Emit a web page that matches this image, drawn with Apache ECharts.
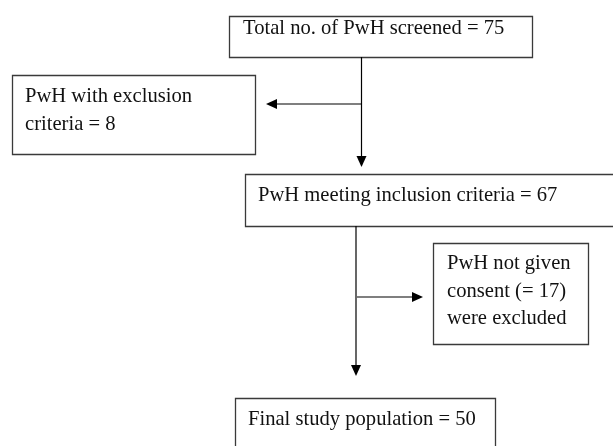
<!DOCTYPE html>
<html>
<head>
<meta charset="utf-8">
<script src="https://cdn.jsdelivr.net/npm/echarts@6/dist/echarts.min.js"></script>
<style>html,body{margin:0;padding:0;background:#fff;}#c{width:613px;height:446px;}</style>
</head>
<body>
<div id="c"></div>
<script>
// Flowchart content
const boxTexts = [
  'Total no. of PwH screened = 75',
  'PwH with exclusion\ncriteria = 8',
  'PwH meeting inclusion criteria = 67',
  'PwH not given\nconsent (= 17)\nwere excluded',
  'Final study population = 50'
];
// Box extents in chart units [x1, y1, x2, y2]
const boxX1 = [229, 12, 245, 433, 235];
const boxY1 = [16, 75, 174, 243, 398];
const boxX2 = [532, 255, 640, 588, 495];
const boxY2 = [57, 154, 226, 344, 470];
// Text anchor (left x, middle of first line)
const textX = [243, 25, 258, 447, 248];
const textY = [29, 97, 196, 264, 420];
// Arrows [fromX, fromY, toX, toY]
const arrowFromX = [361.5, 361.5, 356, 357];
const arrowFromY = [57, 104, 226, 297];
const arrowToX = [361.5, 266, 356, 423];
const arrowToY = [167, 104, 376, 297];

const LH = 27.5;
const chart = echarts.init(document.getElementById('c'), null, {renderer: 'canvas'});
const boxData = boxTexts.map((t, i) => [boxX1[i], boxY1[i], boxX2[i], boxY2[i], textX[i], textY[i], i]);
const arrowData = arrowFromX.map((x, i) => [x, arrowFromY[i], arrowToX[i], arrowToY[i]]);

chart.setOption({
  animation: false,
  backgroundColor: '#fff',
  grid: {left: 0, right: 0, top: 0, bottom: 0},
  xAxis: {type: 'value', min: 0, max: 613, show: false},
  yAxis: {type: 'value', min: 0, max: 446, inverse: true, show: false},
  series: [
    {
      type: 'custom',
      clip: true,
      data: boxData,
      renderItem: function (params, api) {
        const p1 = api.coord([api.value(0), api.value(1)]);
        const p2 = api.coord([api.value(2), api.value(3)]);
        const tp = api.coord([api.value(4), api.value(5)]);
        const idx = api.value(6);
        return {
          type: 'group',
          children: [
            {
              type: 'rect',
              shape: {x: Math.round(p1[0]) + 0.5, y: Math.round(p1[1]) + 0.5, width: Math.round(p2[0] - p1[0]), height: Math.round(p2[1] - p1[1])},
              style: {fill: '#fff', stroke: '#3a3a3a', lineWidth: 1.3}
            },
            {
              type: 'text',
              style: {
                x: tp[0], y: tp[1] - LH / 2,
                text: boxTexts[idx],
                font: '20.6px "Liberation Serif", "Times New Roman", serif',
                fill: '#111',
                lineHeight: LH,
                verticalAlign: 'top',
                align: 'left'
              }
            }
          ]
        };
      }
    },
    {
      type: 'custom',
      data: arrowData,
      renderItem: function (params, api) {
        const a = api.coord([api.value(0), api.value(1)]);
        const b = api.coord([api.value(2), api.value(3)]);
        const dx = b[0] - a[0], dy = b[1] - a[1];
        const len = Math.sqrt(dx * dx + dy * dy);
        const ux = dx / len, uy = dy / len;
        const hl = 11, hw = 5;
        const bx = b[0] - ux * hl, by = b[1] - uy * hl;
        return {
          type: 'group',
          children: [
            {
              type: 'line',
              shape: {x1: a[0], y1: a[1], x2: bx, y2: by},
              style: {stroke: '#000', lineWidth: 1.2}
            },
            {
              type: 'polygon',
              shape: {points: [[b[0], b[1]], [bx - uy * hw, by + ux * hw], [bx + uy * hw, by - ux * hw]]},
              style: {fill: '#000'}
            }
          ]
        };
      }
    }
  ]
});
</script>
</body>
</html>
